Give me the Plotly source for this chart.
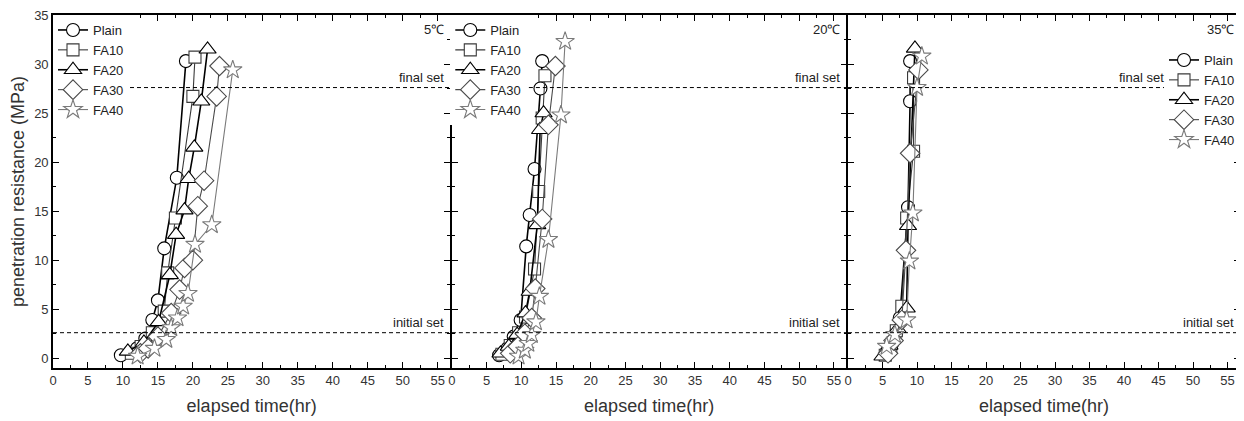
import plotly.graph_objects as go

series_names = ["Plain", "FA10", "FA20", "FA30", "FA40"]
panel_labels = ["5℃", "20℃", "35℃"]
x_ticks = [0, 5, 10, 15, 20, 25, 30, 35, 40, 45, 50, 55]
y_ticks = [0, 5, 10, 15, 20, 25, 30, 35]
final_set = 27.6
initial_set = 2.6

# 5 C
t05_plain = [9.7, 12.0, 13.2, 14.2, 15.0, 15.9, 17.7, 19.0]
p05_plain = [0.3, 1.0, 2.0, 3.9, 5.9, 11.2, 18.4, 30.3]
t05_fa10 = [11.2, 12.6, 14.2, 15.9, 16.4, 17.5, 20.0, 20.3]
p05_fa10 = [0.5, 1.2, 2.6, 4.8, 8.7, 14.3, 26.7, 30.7]
t05_fa20 = [10.7, 13.0, 15.1, 16.7, 17.6, 18.8, 19.4, 20.2, 21.2, 22.1]
p05_fa20 = [0.7, 1.6, 3.7, 8.5, 12.6, 15.1, 18.3, 21.5, 26.2, 31.5]
t05_fa30 = [12.5, 13.6, 15.0, 16.9, 18.1, 18.8, 20.0, 20.7, 21.6, 23.4, 23.8]
p05_fa30 = [0.5, 1.0, 2.2, 4.6, 7.0, 9.2, 10.0, 15.5, 18.1, 26.7, 29.8]
t05_fa40 = [12.1, 14.5, 16.2, 16.9, 17.8, 18.6, 19.3, 20.3, 22.7, 25.7]
p05_fa40 = [0.2, 1.0, 1.9, 3.1, 4.1, 5.3, 6.6, 11.6, 13.6, 29.4]

# 20 C
t20_plain = [6.8, 8.0, 8.9, 9.9, 10.7, 11.2, 11.9, 12.75, 13.0]
p20_plain = [0.3, 1.0, 2.2, 3.9, 11.4, 14.6, 19.3, 27.5, 30.3]
t20_fa10 = [7.2, 8.4, 9.6, 10.6, 11.9, 12.5, 13.0, 13.4]
p20_fa10 = [0.4, 1.3, 2.6, 4.2, 9.1, 17.0, 24.5, 28.8]
t20_fa20 = [7.0, 8.2, 9.4, 10.6, 11.2, 12.3, 12.7, 13.2]
p20_fa20 = [0.5, 1.2, 2.4, 4.6, 6.8, 13.6, 23.3, 25.0]
t20_fa30 = [8.4, 9.5, 10.5, 11.5, 12.0, 13.0, 13.9, 14.9]
p20_fa30 = [0.5, 1.2, 2.5, 4.1, 7.1, 14.2, 23.8, 29.8]
t20_fa40 = [9.6, 10.5, 11.0, 11.5, 12.1, 12.6, 13.9, 15.7, 16.3]
p20_fa40 = [0.2, 0.8, 1.5, 2.4, 3.7, 6.3, 12.1, 24.8, 32.3]

# 35 C
t35_plain = [5.6, 6.4, 7.0, 7.5, 8.7, 9.0, 9.0]
p35_plain = [0.4, 1.5, 2.6, 4.1, 15.4, 26.2, 30.3]
t35_fa10 = [5.4, 6.2, 7.0, 7.8, 8.5, 9.5, 9.5]
p35_fa10 = [0.3, 1.2, 2.8, 5.3, 14.3, 21.1, 28.6]
t35_fa20 = [5.0, 6.0, 7.2, 8.5, 8.7, 9.7]
p35_fa20 = [0.2, 1.3, 3.0, 5.1, 13.5, 31.6]
t35_fa30 = [5.8, 6.6, 7.8, 8.4, 9.0, 10.2]
p35_fa30 = [0.5, 1.8, 3.9, 11.0, 20.9, 29.4]
t35_fa40 = [5.6, 6.8, 8.5, 8.9, 9.4, 10.0, 10.7]
p35_fa40 = [1.2, 2.4, 3.9, 9.9, 14.8, 27.6, 30.8]

panels = [
    [(t05_plain, p05_plain), (t05_fa10, p05_fa10), (t05_fa20, p05_fa20), (t05_fa30, p05_fa30), (t05_fa40, p05_fa40)],
    [(t20_plain, p20_plain), (t20_fa10, p20_fa10), (t20_fa20, p20_fa20), (t20_fa30, p20_fa30), (t20_fa40, p20_fa40)],
    [(t35_plain, p35_plain), (t35_fa10, p35_fa10), (t35_fa20, p35_fa20), (t35_fa30, p35_fa30), (t35_fa40, p35_fa40)],
]

symbols = ["circle", "square", "triangle-up", "diamond", "star"]
colors = ["#000000", "#3a3a3a", "#000000", "#4a4a4a", "#7a7a7a"]
widths = [1.6, 1.1, 1.6, 1.1, 1.1]
msizes = [13, 12, 15, 15, 14]

FONT = "Liberation Sans, Arial, sans-serif"
fig = go.Figure()
legend_names = ["legend", "legend2", "legend3"]
for pi, pdata in enumerate(panels):
    xa = "x" if pi == 0 else f"x{pi+1}"
    ya = "y" if pi == 0 else f"y{pi+1}"
    for si, (tx, py) in enumerate(pdata):
        fig.add_trace(go.Scatter(
            x=tx, y=py, mode="lines+markers", name=series_names[si],
            xaxis=xa, yaxis=ya, legend=legend_names[pi],
            line=dict(color=colors[si], width=widths[si]),
            marker=dict(symbol=symbols[si], size=msizes[si], color="white",
                        line=dict(width=1.1, color=colors[si])),
        ))

gap = 1.6 / 1187
domains = [[0, 0.3347], [0.3347 + gap, 0.6684], [0.6684 + gap, 1.0]]
axis_common = dict(showline=True, linecolor="black", linewidth=1.6, mirror="ticks",
                   ticks="inside", ticklen=6, tickwidth=1.3, tickcolor="black",
                   showgrid=False, zeroline=False, automargin=False,
                   ticklabeloverflow="allow",
                   tickfont=dict(family=FONT, size=13, color="#333333"),
                   minor=dict(ticks="inside", ticklen=3, tickwidth=1, tickcolor="black", dtick=2.5, showgrid=False))
layout = dict()
for pi in range(3):
    xk = "xaxis" if pi == 0 else f"xaxis{pi+1}"
    yk = "yaxis" if pi == 0 else f"yaxis{pi+1}"
    layout[xk] = dict(axis_common, domain=domains[pi], range=[0, 56.8], tickvals=x_ticks,
                      anchor="y" if pi == 0 else f"y{pi+1}",
                      title=dict(text="elapsed time(hr)", font=dict(family=FONT, size=18, color="#333333"), standoff=12))
    layout[yk] = dict(axis_common, domain=[0, 1], range=[-1, 35], tickvals=y_ticks,
                      anchor="x" if pi == 0 else f"x{pi+1}",
                      showticklabels=(pi == 0))
layout["yaxis"]["title"] = dict(text="penetration resistance (MPa)", font=dict(family=FONT, size=18, color="#333333"), standoff=6)

fig.update_layout(**layout)

leg_common = dict(bgcolor="white", borderwidth=0, font=dict(family=FONT, size=13, color="#222222"),
                  tracegroupgap=0, itemsizing="trace", yanchor="top")
fig.update_layout(
    legend=dict(leg_common, x=0.0, xanchor="left", y=1.0),
    legend2=dict(leg_common, x=0.3347, xanchor="left", y=1.0),
    legend3=dict(leg_common, x=1.0, xanchor="right", y=0.915),
)

shapes = []
annotations = []
for pi in range(3):
    xr = "x domain" if pi == 0 else f"x{pi+1} domain"
    yr = "y" if pi == 0 else f"y{pi+1}"
    for lvl in (final_set, initial_set):
        shapes.append(dict(type="line", xref=xr, yref=yr, x0=0, x1=1, y0=lvl, y1=lvl,
                           line=dict(color="black", width=1, dash="4px,3px")))
    annotations.append(dict(xref=xr, yref="paper", x=0.99, y=0.985, text=panel_labels[pi], showarrow=False,
                            xanchor="right", yanchor="top", font=dict(family=FONT, size=13, color="#222222")))
    fx = 0.99 if pi < 2 else 0.81
    annotations.append(dict(xref=xr, yref=yr, x=fx, y=final_set, text="final set", showarrow=False,
                            xanchor="right", yanchor="bottom", yshift=1, font=dict(family=FONT, size=13, color="#222222")))
    annotations.append(dict(xref=xr, yref=yr, x=0.99, y=initial_set, text="initial set", showarrow=False,
                            xanchor="right", yanchor="bottom", yshift=1, font=dict(family=FONT, size=13, color="#222222")))

fig.update_layout(shapes=shapes, annotations=annotations,
                  width=1236, height=413, margin=dict(l=45, r=4, t=7, b=53, autoexpand=False),
                  plot_bgcolor="white", paper_bgcolor="white", showlegend=True)

fig.write_html("out.html")
